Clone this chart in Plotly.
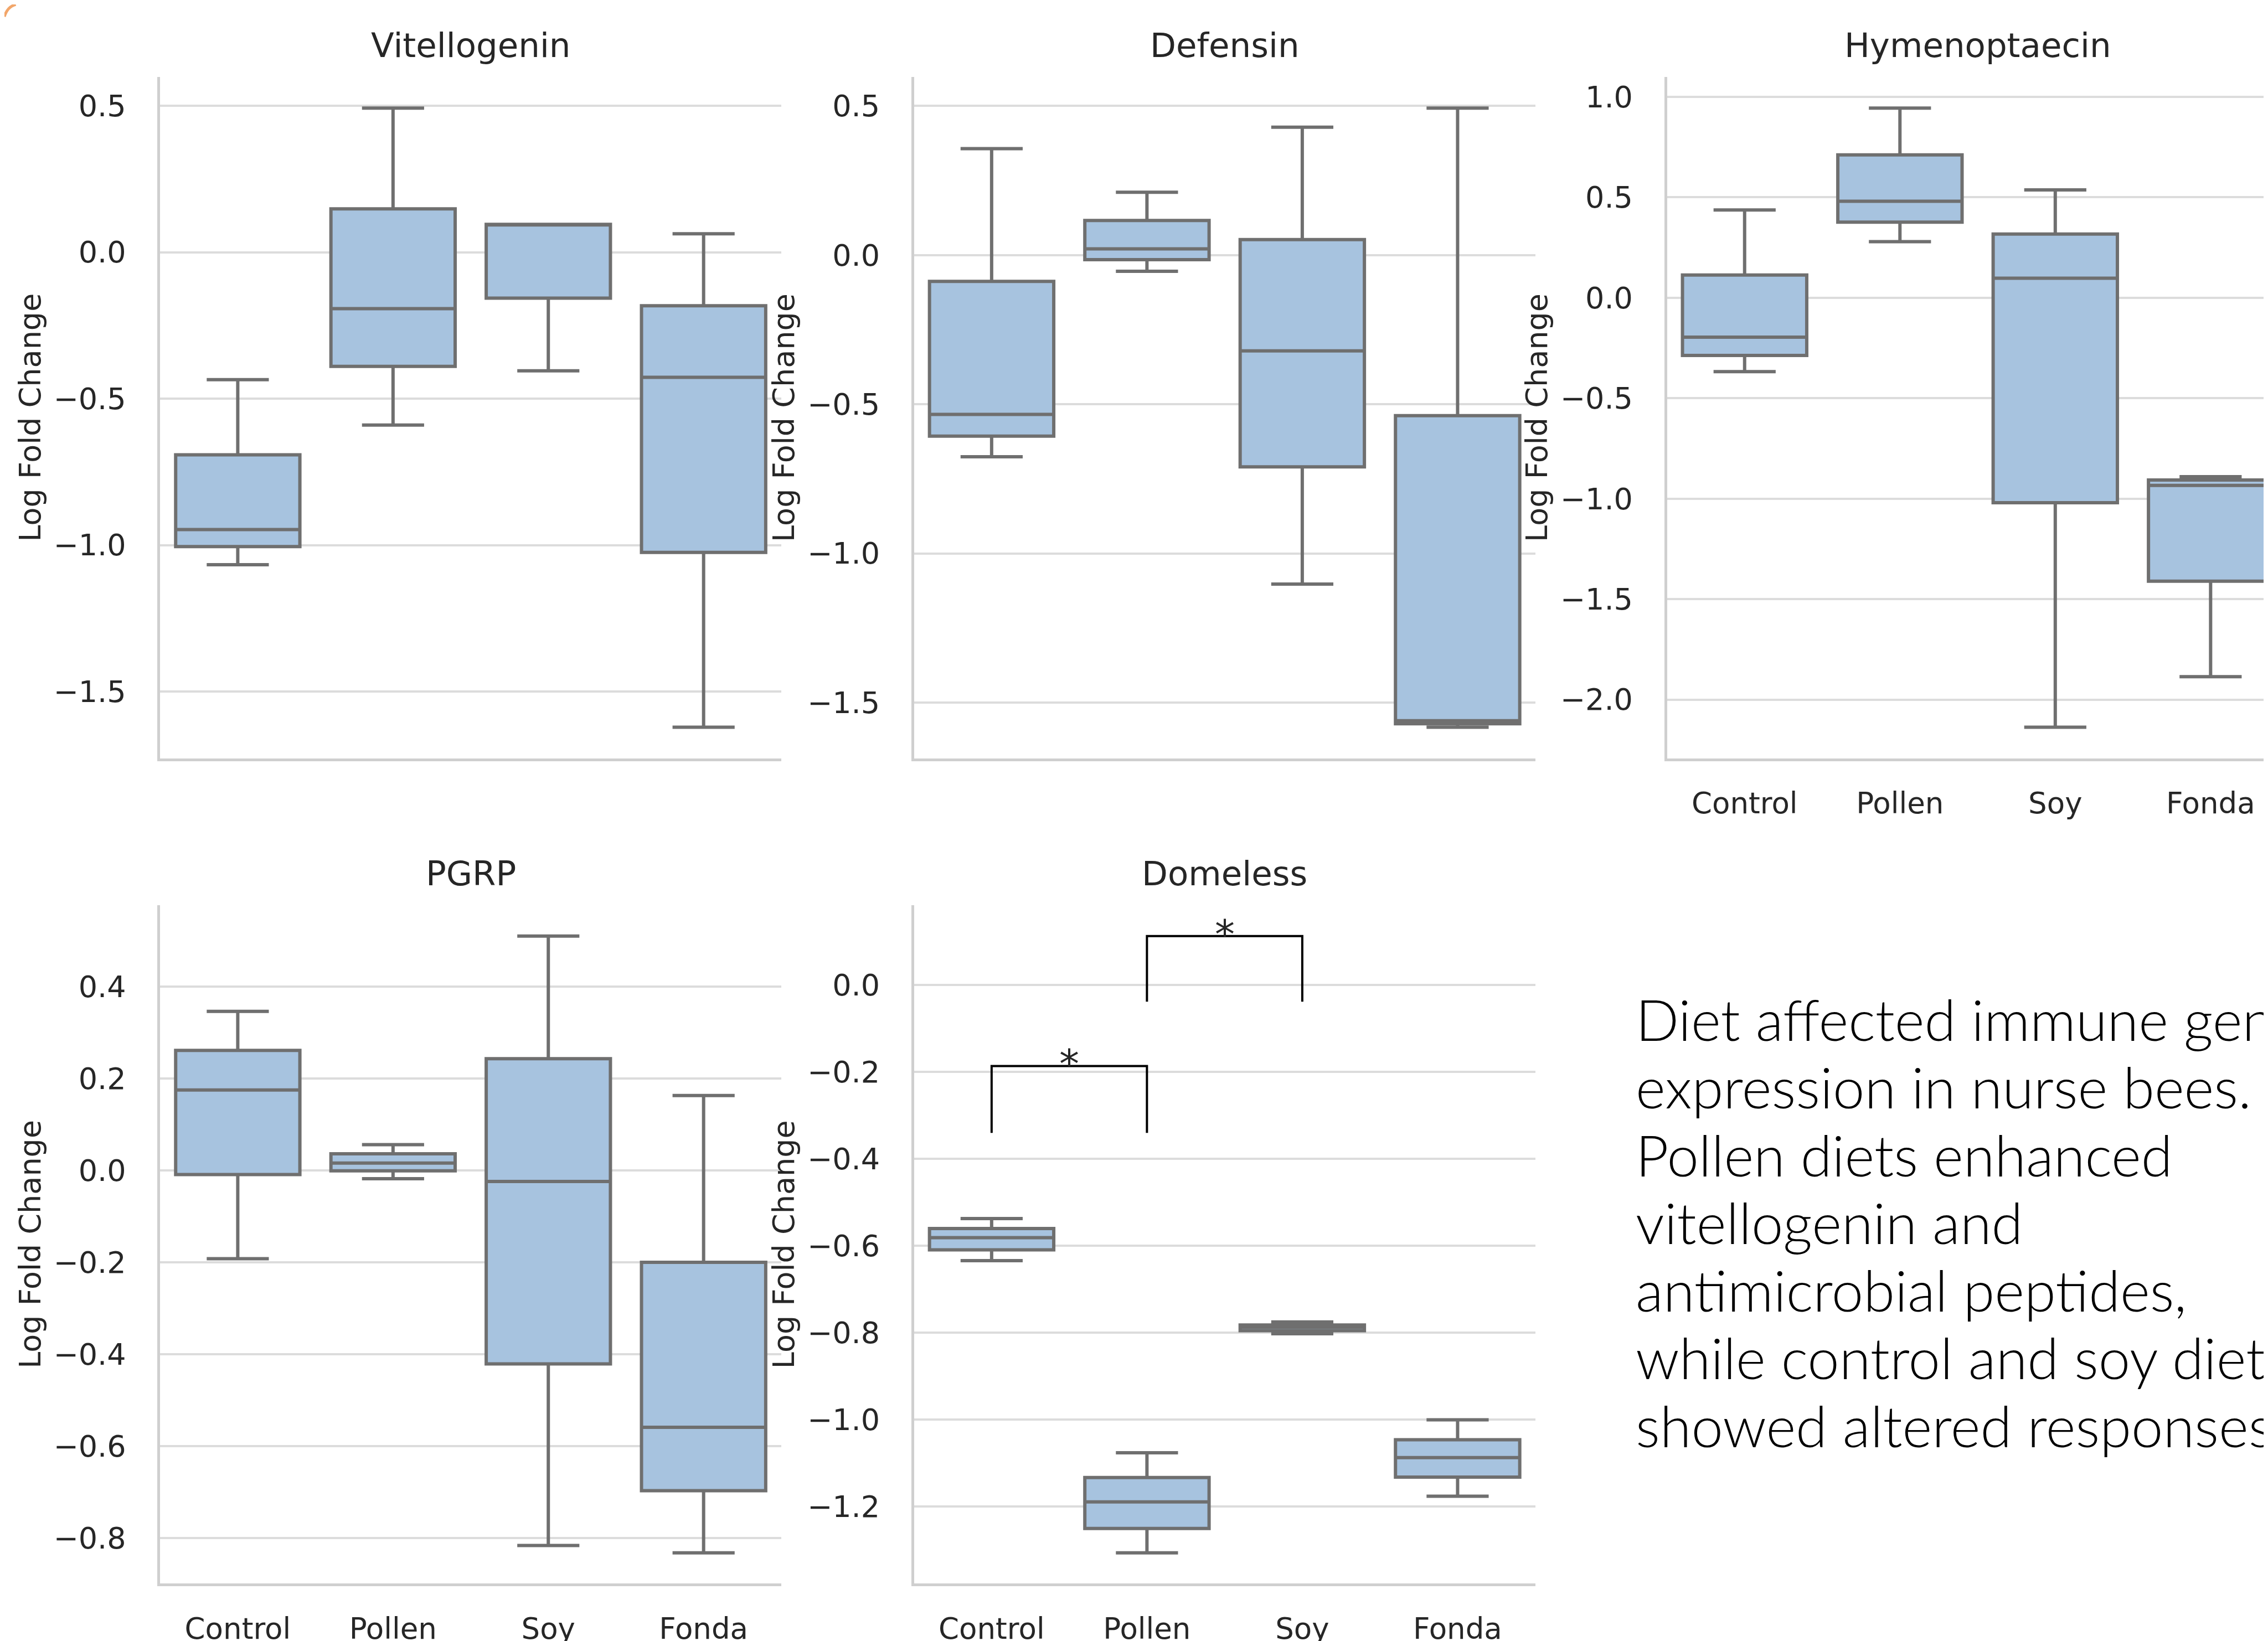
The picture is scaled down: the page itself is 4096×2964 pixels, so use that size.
import plotly.graph_objects as go

W, H = 4096, 2964

categories = ["Control", "Pollen", "Soy", "Fonda"]
genes = ["Vitellogenin", "Defensin", "Hymenoptaecin", "PGRP", "Domeless"]

# box statistics per gene: lower whisker, Q1, median, Q3, upper whisker
vit_lo = [-1.067, -0.590, -0.405, -1.622]
vit_q1 = [-1.005, -0.390, -0.157, -1.025]
vit_med = [-0.947, -0.193, 0.095, -0.427]
vit_q3 = [-0.692, 0.148, 0.095, -0.183]
vit_hi = [-0.435, 0.492, 0.095, 0.063]

def_lo = [-0.676, -0.054, -1.103, -1.583]
def_q1 = [-0.607, -0.015, -0.710, -1.571]
def_med = [-0.534, 0.021, -0.321, -1.561]
def_q3 = [-0.088, 0.116, 0.052, -0.538]
def_hi = [0.357, 0.211, 0.429, 0.493]

hym_lo = [-0.368, 0.279, -2.138, -1.886]
hym_q1 = [-0.287, 0.376, -1.020, -1.411]
hym_med = [-0.196, 0.480, 0.097, -0.934]
hym_q3 = [0.113, 0.711, 0.317, -0.907]
hym_hi = [0.437, 0.944, 0.537, -0.891]

pgrp_lo = [-0.192, -0.018, -0.816, -0.832]
pgrp_q1 = [-0.009, -0.001, -0.421, -0.697]
pgrp_med = [0.175, 0.016, -0.024, -0.559]
pgrp_q3 = [0.261, 0.036, 0.243, -0.200]
pgrp_hi = [0.346, 0.056, 0.510, 0.163]

dom_lo = [-0.634, -1.306, -0.802, -1.176]
dom_q1 = [-0.609, -1.250, -0.795, -1.132]
dom_med = [-0.581, -1.189, -0.787, -1.087]
dom_q3 = [-0.560, -1.133, -0.782, -1.046]
dom_hi = [-0.537, -1.076, -0.775, -1.000]

# significance brackets on Domeless: (left category, right category, leg bottom, bracket top)
sig_left = ["Control", "Pollen"]
sig_right = ["Pollen", "Soy"]
sig_bottom = [-0.340, -0.038]
sig_top = [-0.186, 0.113]
sig_label = ["*", "*"]

# y tick values per panel
vit_ticks = [0.5, 0.0, -0.5, -1.0, -1.5]
def_ticks = [0.5, 0.0, -0.5, -1.0, -1.5]
hym_ticks = [1.0, 0.5, 0.0, -0.5, -1.0, -1.5, -2.0]
pgrp_ticks = [0.4, 0.2, 0.0, -0.2, -0.4, -0.6, -0.8]
dom_ticks = [0.0, -0.2, -0.4, -0.6, -0.8, -1.0, -1.2]

ylabel = "Log Fold Change"
caption_lines = [
    "Diet affected immune gene",
    "expression in nurse bees.",
    "Pollen diets enhanced",
    "vitellogenin and",
    "antimicrobial peptides,",
    "while control and soy diets",
    "showed altered responses.",
]

stats = [
    (vit_lo, vit_q1, vit_med, vit_q3, vit_hi, vit_ticks),
    (def_lo, def_q1, def_med, def_q3, def_hi, def_ticks),
    (hym_lo, hym_q1, hym_med, hym_q3, hym_hi, hym_ticks),
    (pgrp_lo, pgrp_q1, pgrp_med, pgrp_q3, pgrp_hi, pgrp_ticks),
    (dom_lo, dom_q1, dom_med, dom_q3, dom_hi, dom_ticks),
]

# ---- layout geometry (pixels in output) ----
col_x = [(281.2, 1402.9), (1642.6, 2764.7), (3002.5, 4124.6)]
row_y = [(131.8, 1366.6), (1633.0, 2863.0)]
panel_pos = [(0, 0), (0, 1), (0, 2), (1, 0), (1, 1)]

FILL = "#a7c3df"
EDGE = "#6f6f6f"
GRID = "#dcdcdc"
SPINE = "#cfcfcf"
TXT = "#262626"
FONT = "DejaVu Sans"

fig = go.Figure()
layout = dict(
    width=W, height=H,
    margin=dict(l=0, r=0, t=0, b=0),
    paper_bgcolor="white", plot_bgcolor="white",
    showlegend=False,
    font=dict(family=FONT, color=TXT),
)
annotations = []

def minus(v):
    s = f"{v:.1f}"
    return s.replace("-", "\u2212")

for i, (gene, (lo, q1, med, q3, hi, ticks), (r, c)) in enumerate(zip(genes, stats, panel_pos)):
    n = "" if i == 0 else str(i + 1)
    xa, ya = "xaxis" + n, "yaxis" + n
    xr, yr = "x" + n, "y" + n
    x0p, x1p = col_x[c]
    y0p, y1p = row_y[r]
    x1p_c = min(x1p, W)
    # data-driven y range (5% padding)
    dmin, dmax = min(lo), max(hi)
    if gene == "Domeless":
        dmin = min(dmin, min(sig_bottom))
        dmax = max(dmax, max(sig_top))
    pad = 0.05 * (dmax - dmin)
    xmax = -0.5 + 4.0 * (x1p_c - x0p) / (x1p - x0p)
    show_x = (r == 1) or (c == 2)
    layout[xa] = dict(
        domain=[x0p / W, x1p_c / W], anchor=yr,
        type="category", categoryorder="array", categoryarray=categories,
        range=[-0.5, xmax], showgrid=False, zeroline=False,
        showline=True, linecolor=SPINE, linewidth=4.5,
        ticks="", showticklabels=show_x, ticklabelstandoff=31,
        tickfont=dict(family=FONT, size=53, color=TXT),
        fixedrange=True,
    )
    layout[ya] = dict(
        domain=[1 - y1p / H, 1 - y0p / H], anchor=xr,
        range=[dmin - pad, dmax + pad], showgrid=True, gridcolor=GRID, gridwidth=3.5,
        zeroline=False, showline=True, linecolor=SPINE, linewidth=4.5,
        tickmode="array", tickvals=ticks, ticktext=[minus(t) for t in ticks],
        ticks="", ticklabelstandoff=46,
        tickfont=dict(family=FONT, size=54, color=TXT),
        fixedrange=True,
    )
    fig.add_trace(go.Box(
        x=categories, q1=q1, median=med, q3=q3, lowerfence=lo, upperfence=hi,
        xaxis=xr, yaxis=yr, width=0.8, whiskerwidth=0.5,
        fillcolor=FILL, line=dict(color=EDGE, width=6),
        boxpoints=False, hoverinfo="skip",
    ))
    # panel title
    cx = (x0p + x1p) / 2
    annotations.append(dict(
        text=gene, xref="paper", yref="paper", x=cx / W, y=1 - (y0p - 58) / H,
        xanchor="center", yanchor="middle", showarrow=False,
        font=dict(family=FONT, size=61, color=TXT),
    ))
    # y label
    annotations.append(dict(
        text=ylabel, xref="paper", yref="paper", x=(x0p - 235) / W,
        y=1 - ((y0p + y1p) / 2) / H, xanchor="center", yanchor="middle",
        textangle=-90, showarrow=False,
        font=dict(family=FONT, size=54, color=TXT),
    ))
    if gene == "Domeless":
        for a, b, yb, yt, lab in zip(sig_left, sig_right, sig_bottom, sig_top, sig_label):
            fig.add_trace(go.Scatter(
                x=[a, a, b, b], y=[yb, yt, yt, yb], mode="lines",
                line=dict(color="black", width=4), xaxis=xr, yaxis=yr,
                hoverinfo="skip",
            ))
            ia, ib = categories.index(a), categories.index(b)
            annotations.append(dict(
                text=lab, xref=xr, yref=yr, x=(ia + ib) / 2, y=yt,
                xanchor="center", yanchor="bottom", yshift=-40, showarrow=False,
                font=dict(family=FONT, size=72, color=TXT),
            ))

# caption text block, one line at a time (runs off the right edge as in the source)
cap_top = 1839.0
cap_step = 122.7
for k, line in enumerate(caption_lines):
    annotations.append(dict(
        text=line, xref="paper", yref="paper",
        x=2944 / W, y=1 - (cap_top + k * cap_step) / H,
        xanchor="left", yanchor="middle", align="left",
        showarrow=False, font=dict(family="Lato", size=103, color="black", weight=300),
    ))

layout["annotations"] = annotations
layout["shapes"] = [dict(type="path", xref="paper", yref="paper",
                         path="M 0 0.9925 Q 0.0012 0.9985 0.005 1",
                         line=dict(color="#f2a66a", width=5))]
fig.update_layout(**layout)
fig.write_html("out.html")
